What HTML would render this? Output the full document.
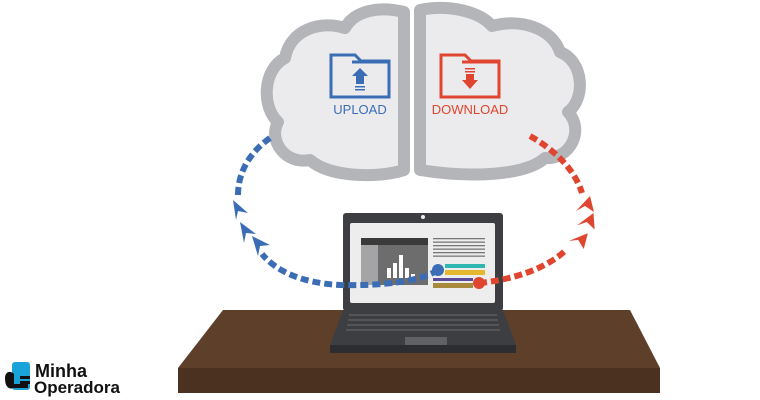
<!DOCTYPE html><html><head><style>body{margin:0;background:#fff}svg{display:block}</style></head><body>
<svg width="760" height="400" viewBox="0 0 760 400" xmlns="http://www.w3.org/2000/svg">
<rect width="760" height="400" fill="#fff"/>
<path d="M404,12 C380,6 355,10 345,28 C320,20 290,30 285,58 C262,70 262,108 278,122 C268,140 285,165 310,160 C330,178 380,178 404,170 Z" fill="#ebebed" stroke="#b4b5b8" stroke-width="12" stroke-linejoin="round"/>
<path d="M420,10 C450,4 480,12 492,26 C520,18 552,28 560,52 C585,62 585,100 568,112 C585,130 570,160 545,158 C525,176 470,178 420,170 Z" fill="#ebebed" stroke="#b4b5b8" stroke-width="12" stroke-linejoin="round"/>
<g fill="none" stroke="#3b6db5" stroke-width="3">
<path d="M331,55 H355 L361,61 H389 V97 H331 Z"/><path d="M352,62 H389"/></g>
<path d="M360,68 L368,76 H364 V84 H356 V76 H352 Z" fill="#3b6db5"/>
<rect x="355" y="86" width="10" height="1.5" fill="#3b6db5"/><rect x="355" y="89" width="10" height="1.5" fill="#3b6db5"/>
<text x="360" y="114" font-family="Liberation Sans,sans-serif" font-size="13" fill="#3b6db5" text-anchor="middle">UPLOAD</text>
<g fill="none" stroke="#e0462f" stroke-width="3">
<path d="M441,55 H465 L471,61 H499 V97 H441 Z"/><path d="M462,62 H499"/></g>
<rect x="465" y="68" width="10" height="1.5" fill="#e0462f"/><rect x="465" y="71" width="10" height="1.5" fill="#e0462f"/>
<path d="M466,74 H474 V80 H478 L470,89 L462,80 H466 Z" fill="#e0462f"/>
<text x="470" y="114" font-family="Liberation Sans,sans-serif" font-size="13" fill="#e0462f" text-anchor="middle">DOWNLOAD</text>
<path d="M223,310 H630 L660,368 H178 Z" fill="#5e3f2a"/>
<rect x="178" y="368" width="482" height="25" fill="#4a3120"/>
<path d="M343,310 H503 L516,345 H330 Z" fill="#3d3e42"/>
<rect x="330" y="345" width="186" height="8" fill="#2c2d30"/>
<g fill="#545559"><rect x="349" y="314" width="148" height="2"/><rect x="348" y="319" width="150" height="2"/><rect x="347" y="324" width="152" height="2"/><rect x="346" y="329" width="154" height="2"/></g>
<rect x="405" y="337" width="42" height="8" fill="#606165"/>
<rect x="343" y="213" width="160" height="98" rx="3" fill="#3d3e42"/>
<circle cx="423" cy="217" r="2" fill="#eee"/>
<rect x="350" y="223" width="145" height="80" rx="2" fill="#ededed"/>
<rect x="361" y="238" width="67" height="7" fill="#3a3a3a"/>
<rect x="361" y="245" width="17" height="40" fill="#a4a4a6"/>
<rect x="378" y="245" width="50" height="40" fill="#6d6d6d"/>
<g fill="#fff"><rect x="387" y="268" width="4" height="10"/><rect x="393" y="263" width="4" height="15"/><rect x="399" y="255" width="4" height="23"/><rect x="405" y="268" width="4" height="10"/><rect x="411" y="274" width="4" height="4"/></g>
<g fill="#777"><rect x="433" y="238" width="52" height="1.3"/><rect x="433" y="241.5" width="52" height="1.3"/><rect x="433" y="245" width="52" height="1.3"/><rect x="433" y="248.5" width="52" height="1.3"/><rect x="433" y="252" width="52" height="1.3"/><rect x="433" y="255.5" width="52" height="1.3"/></g>
<rect x="445" y="264" width="40" height="4" fill="#2fb6b0"/>
<rect x="445" y="270" width="40" height="5" fill="#e3b82f"/>
<rect x="433" y="278" width="40" height="3" fill="#5a4a9a"/>
<rect x="433" y="283" width="40" height="5" fill="#a88a3c"/>
<path d="M438,270 C420,282 380,286 340,285 C300,283 275,270 262,254" fill="none" stroke="#3b6db5" stroke-width="6" stroke-dasharray="8,4"/>
<path d="M238,195 C238,172 250,152 270,138" fill="none" stroke="#3b6db5" stroke-width="6" stroke-dasharray="8,4"/>
<circle cx="438" cy="270" r="6" fill="#3b6db5"/>
<g fill="#3b6db5"><path d="M233,200 L248,213 L238,211 L236,220 Z"/><path d="M240,222 L256,234 L246,233 L244,243 Z"/><path d="M252,236 L270,245 L260,246 L258,256 Z"/></g>
<path d="M479,283 C510,280 545,270 566,250" fill="none" stroke="#e0462f" stroke-width="6" stroke-dasharray="8,4"/>
<path d="M530,136 C555,150 575,170 582,193" fill="none" stroke="#e0462f" stroke-width="6" stroke-dasharray="8,4"/>
<circle cx="479" cy="283" r="6" fill="#e0462f"/>
<g fill="#e0462f"><path d="M576,200 L592,196 L586,205 L591,214 Z" transform="rotate(90 585 205)"/><path d="M578,216 L594,212 L588,221 L593,230 Z" transform="rotate(100 587 221)"/><path d="M571,232 L587,229 L581,238 L586,246 Z" transform="rotate(115 579 238)"/></g>
<rect x="12" y="362" width="18" height="28" rx="3" fill="#1aa3d8"/>
<path d="M5,378 C5,372 10,370 14,374 L14,384 H28 V388 H14 C8,390 5,386 5,378 Z" fill="#111"/>
<g fill="#111"><rect x="20" y="376" width="10" height="3"/><rect x="20" y="381" width="10" height="3"/></g>
<text x="35" y="377" font-family="Liberation Sans,sans-serif" font-weight="bold" font-size="18" fill="#111">Minha</text>
<text x="34" y="393" font-family="Liberation Sans,sans-serif" font-weight="bold" font-size="17" fill="#111">Operadora</text>
</svg></body></html>
